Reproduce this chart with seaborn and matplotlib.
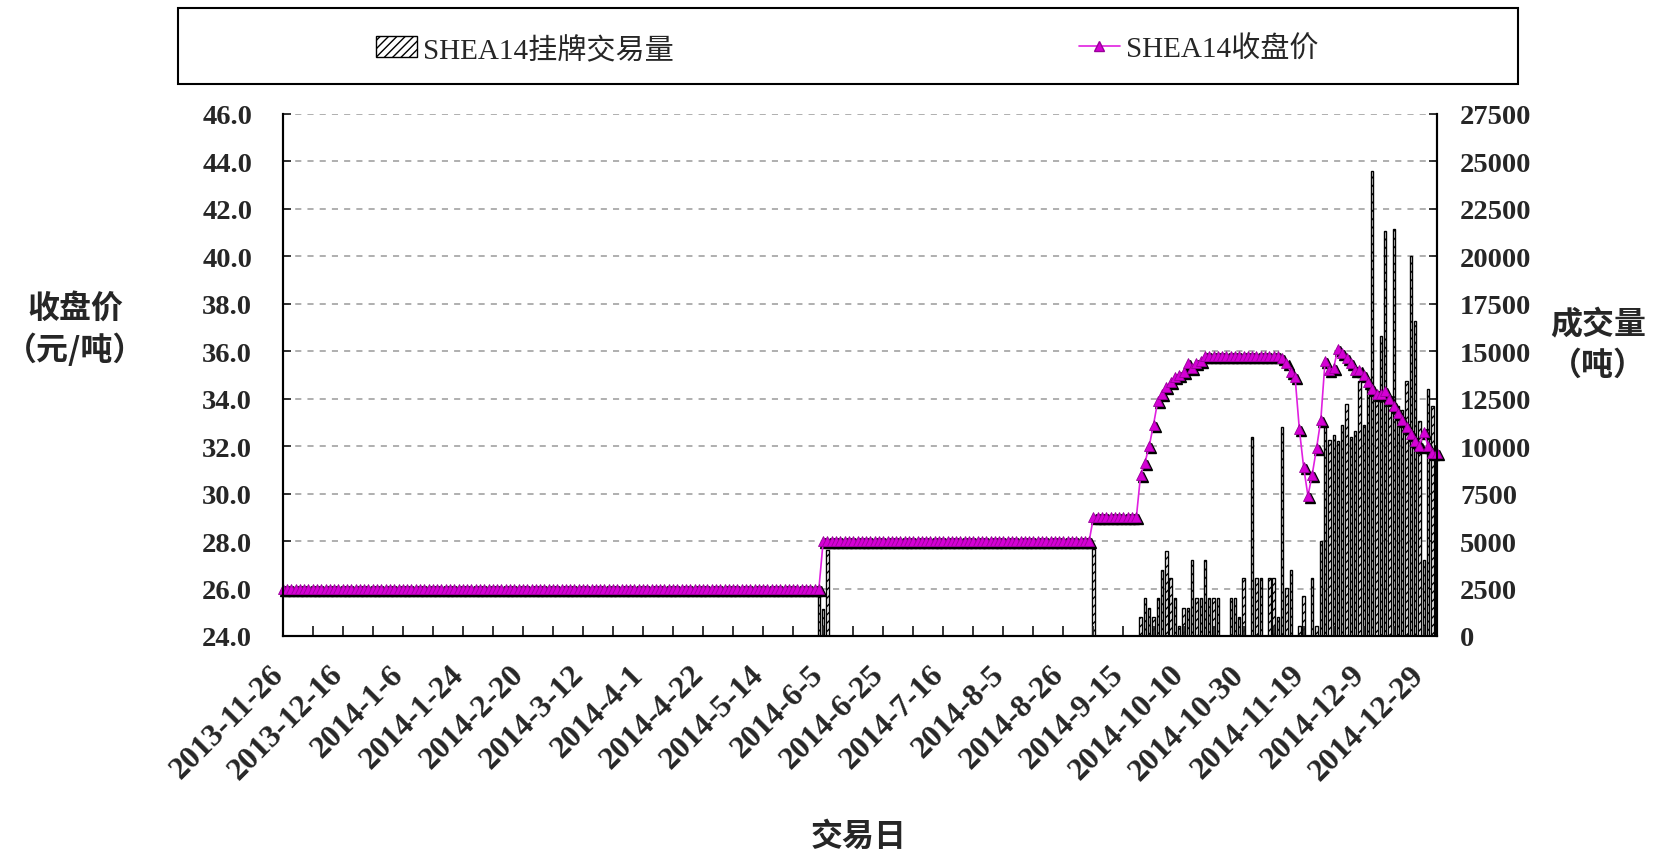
import numpy as np
import pandas as pd
import matplotlib
matplotlib.use("Agg")
import matplotlib.pyplot as plt
import matplotlib.transforms as mtransforms
from matplotlib.patches import Rectangle, Patch
from matplotlib.lines import Line2D
from matplotlib.ticker import FormatStrFormatter
import seaborn as sns

# x axis: trading-day index 0..269, a label every 14 trading days
tick_labels = ["2013-11-26", "2013-12-16", "2014-1-6", "2014-1-24", "2014-2-20",
               "2014-3-12", "2014-4-1", "2014-4-22", "2014-5-14", "2014-6-5",
               "2014-6-25", "2014-7-16", "2014-8-5", "2014-8-26", "2014-9-15",
               "2014-10-10", "2014-10-30", "2014-11-19", "2014-12-9", "2014-12-29"]
label_step = 14

# closing price (yuan/t): long flat stretches as (price, number of days)
price_flat = [(26.0, 126), (28.0, 63), (29.0, 11)]
price_rise = [30.8, 31.3, 32.0, 32.9, 33.9, 34.2, 34.5, 34.7, 34.9, 35.0,
              35.1, 35.5, 35.3, 35.5, 35.6]
price_top = (35.8, 18)
price_late = [35.7, 35.5, 35.1, 34.9,
              32.7, 31.1, 29.9, 30.8, 31.9, 33.1, 35.6, 35.2, 35.3,
              36.1, 35.9, 35.7, 35.5, 35.2, 35.2, 35.0, 34.7, 34.4, 34.2,
              34.2, 34.3, 34.0, 33.7, 33.4, 33.1, 32.8, 32.5, 32.2, 32.0,
              32.6, 32.0, 31.7, 31.7]

# volume (t), only the days with trades
vol_days = [125, 126, 127, 189,
            200, 201, 202, 203, 204, 205, 206, 207, 208, 209, 210, 211, 212,
            213, 214, 215, 216, 217, 218, 221, 222, 223, 224, 226, 227, 228,
            230, 231, 232, 233, 234, 235, 237, 238, 240, 241, 242,
            243, 244, 245, 246, 247, 248, 249, 250, 251, 252, 253, 254, 255,
            256, 257, 258, 259, 260, 261, 262, 263, 264, 265, 266, 267, 268, 269]
vol_values = [2600, 1400, 4550, 4600,
              1000, 2000, 1450, 1000, 2000, 3500, 4450, 3050, 2000, 500, 1450, 1450, 4000,
              2000, 2000, 4000, 2000, 2000, 2000, 2000, 2000, 1000, 3050, 10500, 3050, 3050,
              3050, 3050, 1000, 11000, 2550, 3500, 500, 2100, 3050, 500, 5000,
              11000, 10300, 10600, 10250, 11100, 12200, 10500, 10800, 13400, 11100, 13000, 24500, 12900,
              15800, 21300, 12350, 21400, 12100, 11900, 13400, 20000, 16600, 11300, 4000, 13000, 12100, 10000]

price = []
for p, n in price_flat:
    price += [p] * n
price += price_rise
price += [price_top[0]] * price_top[1]
price += price_late
days = np.arange(len(price))
price_df = pd.DataFrame({"day": days, "price": price})
vol_df = pd.DataFrame({"day": vol_days, "vol": vol_values})

sns.set_theme(style="white")
plt.rcParams["font.family"] = ["Liberation Serif", "Noto Sans CJK SC"]
cjk = ["Noto Sans CJK SC", "Liberation Serif"]
mag = "#E020E0"

fig = plt.figure(figsize=(16.62, 8.54), dpi=100)
ax = fig.add_axes([0.1701, 0.2541, 0.6943, 0.6118])
axv = ax.twinx()
ax.set_zorder(axv.get_zorder() + 1)
ax.patch.set_visible(False)

# volume bars (right axis)
sns.barplot(data=vol_df, x="day", y="vol", native_scale=True, width=0.55,
            color="white", edgecolor="black", linewidth=1.0, hatch="////",
            errorbar=None, ax=axv)
axv.set_ylim(0, 27500)
axv.set_yticks(np.arange(0, 27501, 2500))
axv.yaxis.grid(True, linestyle=(0, (4, 4)), color="#9a9a9a", lw=1.1)
axv.set_axisbelow(True)

# closing price (left axis), markers with a dark drop shadow
shadow = mtransforms.offset_copy(ax.transData, fig=fig, x=1.5, y=-1.5, units="points")
ax.plot(days, price, ls="none", marker="^", ms=7.5, color="black",
        transform=shadow, clip_on=False)
sns.lineplot(data=price_df, x="day", y="price", ax=ax, color=mag, lw=1.2,
             marker="^", markersize=7.5, markerfacecolor="#D400D4",
             markeredgecolor="#9a009a", markeredgewidth=0.6, clip_on=False)

ax.set_xlim(0, len(price) - 1)
ax.set_ylim(24, 46)
ax.set_yticks(np.arange(24, 46.01, 2))
ax.yaxis.set_major_formatter(FormatStrFormatter("%.1f"))
ax.set_xticks(np.arange(len(tick_labels)) * label_step)
ax.set_xticks(np.arange(7, len(price), label_step), minor=True)
ax.set_xticklabels(tick_labels)

ax.tick_params(axis="x", which="both", direction="in", length=7, width=1.3,
               bottom=True, pad=17)
ax.tick_params(axis="y", direction="in", length=6, width=1.3, left=True,
               labelsize=20.5, pad=22)
axv.tick_params(axis="y", direction="in", length=6, width=1.3, right=True,
                labelsize=20.5, pad=17)
axv.tick_params(axis="x", bottom=False, labelbottom=False)
for lab in ax.get_yticklabels() + axv.get_yticklabels():
    lab.set_fontweight("bold")

shift_left = mtransforms.ScaledTranslation(-0.14, 0, fig.dpi_scale_trans)
for lab in ax.get_xticklabels():
    lab.set_rotation(45)
    lab.set_ha("right")
    lab.set_va("top")
    lab.set_rotation_mode("anchor")
    lab.set_fontweight("bold")
    lab.set_fontsize(23)
    lab.set_transform(lab.get_transform() + shift_left)

for a in (ax, axv):
    a.set_xlabel("")
    a.set_ylabel("")
    a.spines["top"].set_visible(False)
    for s in ("left", "right", "bottom"):
        a.spines[s].set_color("black")
        a.spines[s].set_linewidth(1.5)

# axis titles
title_kw = dict(family=cjk, fontsize=23, fontweight="bold", ha="center", va="center")
fig.text(75 / 1662, 1 - 309 / 854, "收盘价", **title_kw)
fig.text(75 / 1662, 1 - 350 / 854, "（元/吨）", **title_kw)
fig.text(1598 / 1662, 1 - 325 / 854, "成交量", **title_kw)
fig.text(1598 / 1662, 1 - 366 / 854, "（吨）", **title_kw)
fig.text(859 / 1662, 1 - 837 / 854, "交易日", **title_kw)

# legend box across the top
fig.patches.append(Rectangle((178 / 1662, 1 - 85 / 854), 1340 / 1662, 76.5 / 854,
                             transform=fig.transFigure, fill=False,
                             edgecolor="black", lw=1.5))
leg_font = {"family": ["Liberation Serif", "Noto Sans CJK SC"], "size": 21}
h_vol = Patch(facecolor="white", edgecolor="black", hatch="////", lw=1.0)
h_price = Line2D([], [], color=mag, lw=1.2, marker="^", ms=7.5,
                 markerfacecolor="#D400D4", markeredgecolor="#9a009a")
fig.legend([h_vol], ["SHEA14挂牌交易量"], loc="center left",
           bbox_to_anchor=(376 / 1662, 1 - 50 / 854), frameon=False,
           prop=leg_font, handlelength=1.4, handletextpad=0.2,
           borderpad=0, borderaxespad=0)
fig.legend([h_price], ["SHEA14收盘价"], loc="center left",
           bbox_to_anchor=(1079 / 1662, 1 - 50 / 854), frameon=False,
           prop=leg_font, handlelength=1.4, handletextpad=0.2,
           borderpad=0, borderaxespad=0)

fig.savefig("out.png", dpi=100)
